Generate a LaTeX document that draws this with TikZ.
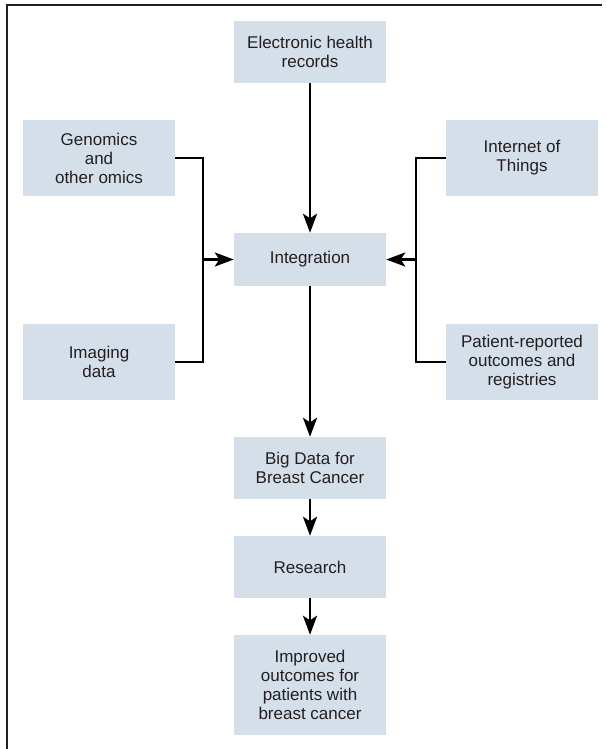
\documentclass[tikz,border=0pt]{standalone}
\usepackage{fontspec}
\setmainfont{Liberation Sans}
\usepackage{tikz}
\usetikzlibrary{arrows.meta}

\definecolor{boxblue}{RGB}{213,223,234}
\definecolor{inkgray}{RGB}{35,31,32}

\begin{document}
\begin{tikzpicture}[x=1pt, y=-1pt,
        box/.style={rectangle, fill=boxblue, inner sep=0pt, minimum width=152pt,
                    minimum height=62pt, align=center, text=inkgray,
                    font=\fontsize{17}{19}\selectfont},
        link/.style={line width=2.8pt, draw=black},
        arr/.style={link, -{Stealth[length=19pt, width=14pt, inset=4.5pt]}}]
        \useasboundingbox (0,0) rectangle (607,749);
        \draw[line width=1.8pt, draw=inkgray] (7,760) -- (7,5) -- (602,5);

        \node[box] (ehr) at (310, 52) {Electronic health\\records};
        \node[box, minimum height=76pt] (genomics) at (99, 158) {Genomics\\and\\other omics};
        \node[box, minimum height=76pt] (iot) at (522, 158) {Internet of\\Things};
        \node[box, minimum height=53pt] (integration) at (310, 259.5) {Integration};
        \node[box, minimum height=76pt] (imaging) at (99, 362) {Imaging\\data};
        \node[box, minimum height=76pt] (patient) at (522, 362) {Patient-reported\\outcomes and\\registries};
        \node[box] (bigdata) at (310, 468) {Big Data for\\Breast Cancer};
        \node[box] (research) at (310, 567) {Research};
        \node[box, minimum height=100pt] (improved) at (310, 685) {Improved\\outcomes for\\patients with\\breast cancer};

        \coordinate (ljoin) at (203, 259.5);
        \coordinate (rjoin) at (416, 259.5);

        \draw[link] (genomics.east) -| (ljoin) |- (imaging.east);
        \draw[link] (iot.west) -| (rjoin) |- (patient.west);
        \draw (ljoin) edge[arr] (integration.west)
              (rjoin) edge[arr] (integration.east)
              (ehr) edge[arr] (integration)
              (integration) edge[arr] (bigdata)
              (bigdata) edge[arr] (research)
              (research) edge[arr] (improved);
    \end{tikzpicture}
\end{document}
